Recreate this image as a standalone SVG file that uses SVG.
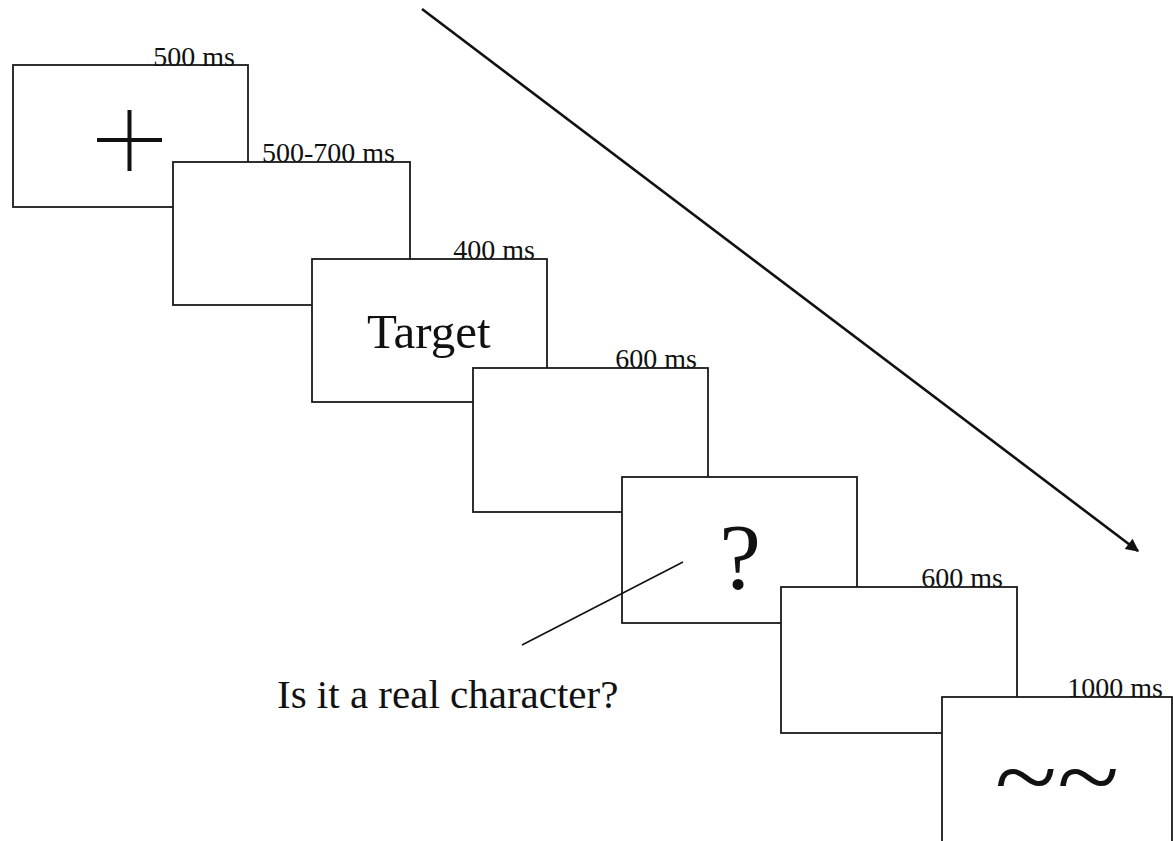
<svg xmlns="http://www.w3.org/2000/svg" width="1173" height="841" viewBox="0 0 1173 841">
<defs>
<style>
.box{fill:#fff;stroke:#1a1a1a;stroke-width:1.8}
.lbl{font-family:"Liberation Serif","Times New Roman",serif;font-size:28px;fill:#111;text-anchor:end}
.big{font-family:"Liberation Serif","Times New Roman",serif;fill:#111}
</style>
<marker id="ah" viewBox="0 0 10 10" refX="9" refY="5" markerWidth="6" markerHeight="5" orient="auto" markerUnits="strokeWidth">
<path d="M0,0 L10,5 L0,10 Z" fill="#111"/>
</marker>
</defs>
<rect width="1173" height="841" fill="#fff"/>
<g id="connectors">
<line x1="422" y1="9" x2="1138" y2="551" stroke="#111" stroke-width="2.6" marker-end="url(#ah)"/>
</g>
<g id="screen1">
<rect class="box" x="13" y="65" width="235" height="142"/>
<text class="lbl" x="235" y="66">500 ms</text>
<path d="M97,140 H162 M129.5,110 V171" stroke="#111" stroke-width="4" fill="none"/>
</g>
<g id="screen2">
<rect class="box" x="173" y="162" width="237" height="143"/>
<text class="lbl" x="395" y="162">500-700 ms</text>
</g>
<g id="screen3">
<rect class="box" x="312" y="259" width="235" height="143"/>
<text class="lbl" x="535" y="259">400 ms</text>
<text class="big" x="367" y="348" font-size="49">Target</text>
</g>
<g id="screen4">
<rect class="box" x="473" y="368" width="235" height="144"/>
<text class="lbl" x="697" y="368">600 ms</text>
</g>
<g id="screen5">
<rect class="box" x="622" y="477" width="235" height="146"/>
<text class="big" x="740" y="588" font-size="94" text-anchor="middle">?</text>
</g>
<g id="question">
<line x1="683" y1="562" x2="522" y2="645" stroke="#111" stroke-width="1.6"/>
<text class="big" x="277" y="708" font-size="41">Is it a real character?</text>
</g>
<g id="screen6">
<rect class="box" x="781" y="587" width="236" height="146"/>
<text class="lbl" x="1003" y="587">600 ms</text>
</g>
<g id="screen7">
<rect class="box" x="942" y="697" width="230" height="160"/>
<text class="lbl" x="1163" y="697">1000 ms</text>
<text class="big" transform="translate(1057,810) scale(1.15,1)" x="0" y="0" font-size="100" text-anchor="middle">~~</text>
</g>
</svg>
